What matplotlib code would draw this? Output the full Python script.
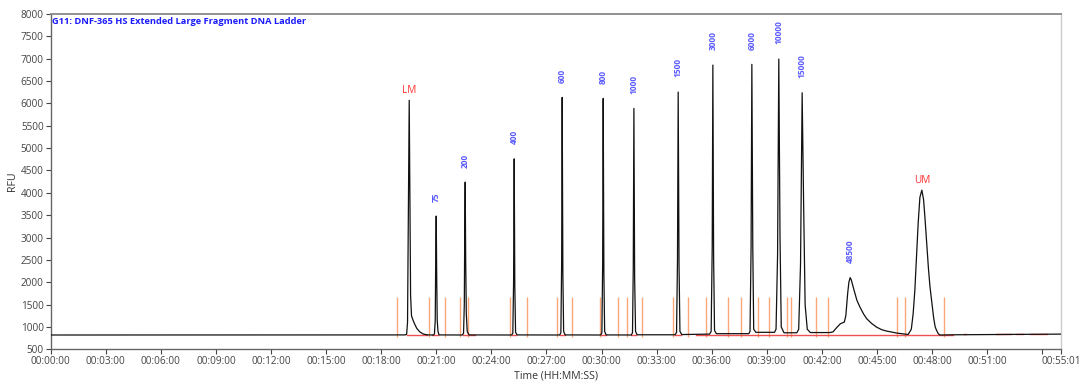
import matplotlib
matplotlib.use("Agg")
import matplotlib.pyplot as plt

plt.rcParams['font.family'] = ['Open Sans', 'DejaVu Sans']

# ---------------- data ----------------
title = "G11: DNF-365 HS Extended Large Fragment DNA Ladder"

# electropherogram trace: time (s) and RFU
trace_time = [
    0, 1130, 1158, 1163, 1166, 1168.5, 1171.5, 1173.5, 1176, 1179, 1184, 1189, 1196, 1206, 1218, 1232,
    1251, 1254, 1256.5, 1258, 1259.7, 1261.5, 1263, 1265.5, 1269,
    1345, 1349, 1351.5, 1353, 1354.4, 1356, 1358, 1361, 1367,
    1506, 1510, 1512.5, 1514.5, 1516.5, 1519, 1524,
    1663, 1667, 1669.5, 1671.3, 1673.5, 1676, 1681,
    1797, 1801, 1803.5, 1805.3, 1807.5, 1810, 1815,
    1897, 1901, 1903.5, 1905.6, 1908, 1911, 1916,
    2040, 2045, 2048, 2050.3, 2053, 2056, 2062,
    2110, 2153, 2158, 2161.5, 2163.6, 2166, 2169, 2175,
    2281, 2285, 2288.5, 2291, 2294, 2297, 2304,
    2365, 2370, 2375, 2379, 2383, 2387, 2396,
    2438, 2444, 2450, 2455.3, 2460, 2465, 2472, 2482,
    2546, 2556, 2570, 2580, 2593, 2598, 2604, 2608, 2612.1, 2616, 2622, 2634, 2644, 2656, 2666,
    2682, 2698, 2715, 2731, 2764, 2797,
    2802, 2812, 2818, 2823.5, 2829, 2834.3, 2840, 2846.4, 2852, 2857, 2861.7, 2868, 2873, 2878.1,
    2885, 2890, 2894.4, 2900, 2905, 2950, 3100, 3301,
]
trace_rfu = [
    820, 820, 822, 835, 1100, 3500, 6070, 4200, 1700, 1250, 1150, 1070, 970, 890, 840, 822,
    820, 850, 1150, 2400, 3480, 2000, 1150, 900, 822,
    820, 860, 1500, 3200, 4240, 2500, 1300, 900, 822,
    820, 860, 2000, 4760, 1900, 880, 822,
    820, 870, 2400, 6135, 2200, 900, 822,
    820, 870, 2400, 6112, 2200, 900, 822,
    820, 870, 2300, 5888, 2100, 900, 825,
    825, 880, 2500, 6254, 2400, 900, 830,
    835, 840, 900, 2800, 6858, 2600, 920, 850,
    850, 900, 2800, 6874, 2800, 950, 880,
    880, 950, 2600, 6992, 3000, 1000, 870,
    870, 950, 2400, 6238, 3800, 1500, 950, 875,
    875, 890, 1000, 1070, 1110, 1250, 1750, 2000, 2104, 2050, 1895, 1600, 1447, 1290, 1186,
    1080, 998, 940, 908, 864, 835,
    835, 950, 1300, 1820, 2600, 3313, 3900, 4060, 3850, 3400, 2940, 2300, 1900, 1597,
    1200, 1000, 925, 850, 820, 825, 832, 840,
]

# labelled peaks
peak_labels = ["LM", "75", "200", "400", "600", "800", "1000", "1500",
               "3000", "6000", "10000", "15000", "48500", "UM"]
peak_time = [1171.5, 1259.7, 1354.4, 1514.5, 1671.3, 1805.3, 1905.6, 2050.3,
             2163.6, 2291.0, 2379.0, 2455.3, 2612.1, 2846.4]
peak_rfu = [6070, 3480, 4240, 4760, 6135, 6112, 5888, 6254,
            6858, 6874, 6992, 6238, 2104, 4060]
marker_labels = ["LM", "UM"]

# peak integration boundaries (orange ticks)
boundary_time = [1132, 1235, 1288, 1339, 1364, 1500, 1555, 1653, 1702, 1794,
                 1854, 1882, 1931, 2032, 2083, 2140, 2214, 2255, 2310, 2348,
                 2406, 2418, 2499, 2540, 2764, 2792, 2918]
boundary_low, boundary_high = 780, 1665

# red baseline segments (start, end, level)
base_start = [1163, 1245, 1348, 1506, 1664, 1798, 1896, 2039, 2110, 2985, 3090, 3153, 3199, 3237]
base_end = [1228, 1266, 1386, 1522, 1680, 1816, 1914, 2061, 2949, 2990, 3139, 3177, 3232, 3254]
base_level = [812, 812, 812, 812, 812, 812, 812, 815, 818, 832, 834, 834, 836, 836]

# axes
x_ticks = [0, 180, 360, 540, 720, 900, 1080, 1260, 1440, 1620, 1800, 1980,
           2160, 2340, 2520, 2700, 2880, 3060, 3240, 3301]
x_ticklabels = ["00:00:00", "00:03:00", "00:06:00", "00:09:00", "00:12:00", "00:15:00",
                "00:18:00", "00:21:00", "00:24:00", "00:27:00", "00:30:00", "00:33:00",
                "00:36:00", "00:39:00", "00:42:00", "00:45:00", "00:48:00", "00:51:00",
                "", "00:55:01"]
y_ticks = [500, 1000, 1500, 2000, 2500, 3000, 3500, 4000, 4500, 5000, 5500,
           6000, 6500, 7000, 7500, 8000]

# ---------------- figure ----------------
fig = plt.figure(figsize=(10.8, 3.85), dpi=100)
ax = fig.add_axes([0.0469, 0.0927, 0.9355, 0.8709])

ax.vlines(boundary_time, boundary_low, boundary_high, colors="#fba77a", linewidth=1.0, zorder=1)
for s, e, lv in zip(base_start, base_end, base_level):
    ax.plot([s, e], [lv, lv], color="#f05050", linewidth=1.0, zorder=2)
ax.plot(trace_time, trace_rfu, color="#111111", linewidth=0.9, zorder=3)

for lab, t, h in zip(peak_labels, peak_time, peak_rfu):
    if lab in marker_labels:
        ax.annotate(lab, xy=(t, h), xytext=(0, 3), textcoords="offset points",
                    ha="center", va="bottom", color="#ff3030", fontsize=7.2)
    else:
        ax.annotate(lab, xy=(t, h), xytext=(0, 10.5), textcoords="offset points",
                    ha="center", va="bottom", rotation=90, color="#5a5aff",
                    fontsize=6.0, fontweight="bold")

ax.text(0.0015, 0.992, title, transform=ax.transAxes, ha="left", va="top",
        color="#1a1aff", fontsize=6.7, fontweight="bold")

ax.set_xlim(0, 3301)
ax.set_ylim(500, 8000)
ax.set_xticks(x_ticks)
ax.set_xticklabels(x_ticklabels)
ax.set_yticks(y_ticks)
ax.tick_params(axis="both", labelsize=7.2, colors="#444444", length=3.5, width=0.8,
               pad=1.5)
ax.set_xlabel("Time (HH:MM:SS)", fontsize=7.6, color="#333333", labelpad=2)
ax.set_ylabel("RFU", fontsize=7.6, color="#333333", labelpad=2)

for side in ["left", "bottom"]:
    ax.spines[side].set_color("#666666")
    ax.spines[side].set_linewidth(1.0)
ax.spines["top"].set_color("#888888")
ax.spines["top"].set_linewidth(1.3)
ax.spines["right"].set_color("#cccccc")
ax.spines["right"].set_linewidth(1.0)

fig.savefig("out.png", dpi=100, facecolor="white")
